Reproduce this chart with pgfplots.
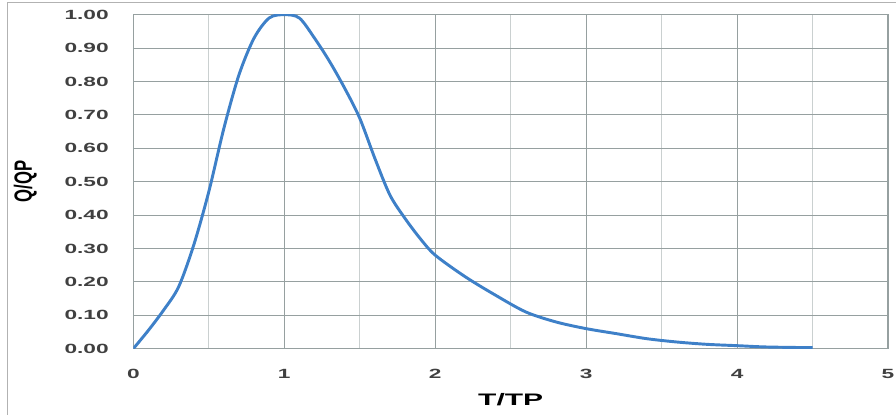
\documentclass[border=0pt]{standalone}
\usepackage{fontspec}
\setmainfont{Liberation Sans}
\usepackage{pgfplots}
\pgfplotsset{compat=1.18}
\definecolor{curve}{RGB}{62,128,200}
\definecolor{gridc}{RGB}{150,160,160}
\begin{document}
\begin{tikzpicture}
\begin{axis}[
    scale only axis,
    width=566pt, height=250.5pt,
    xmin=0, xmax=5, ymin=0, ymax=1,
    xtick={0,1,...,5},
    minor xtick={0.5,1.5,2.5,3.5,4.5},
    ytick={0,0.1,...,1.0},
    grid=both,
    major grid style={gridc, line width=0.8pt},
    minor grid style={gridc!50, line width=0.8pt},
    axis line style={gridc, line width=0.8pt},
    tick style={draw=none},
    /pgf/number format/assume math mode=true,
    yticklabel={\scalebox{1.7}[1]{\pgfmathprintnumber[fixed,fixed zerofill,precision=2]{\tick}}},
    xticklabel={\scalebox{1.7}[1]{\pgfmathprintnumber{\tick}}},
    tick label style={font=\bfseries\fontsize{10}{12}\selectfont, text=black!75},
    yticklabel style={xshift=-15pt},
    xticklabel style={yshift=-12pt},
    xlabel={\scalebox{1.8}[1]{T/TP}},
    ylabel={\scalebox{1}[1.5]{Q/QP}},
    label style={font=\bfseries\fontsize{12.5}{15}\selectfont},
    xlabel style={yshift=-4pt},
    ylabel style={yshift=14pt},
]
\addplot[curve, line width=2.2pt, smooth, tension=0.5] coordinates {
(0,0) (0.1,0.055) (0.2,0.115) (0.3,0.185) (0.4,0.31) (0.5,0.47) (0.6,0.66)
(0.7,0.82) (0.8,0.93) (0.9,0.99) (1.0,1.0) (1.1,0.99) (1.2,0.93) (1.3,0.86)
(1.4,0.78) (1.5,0.69) (1.6,0.57) (1.7,0.46) (1.8,0.39) (1.9,0.33) (2.0,0.28)
(2.2,0.215) (2.4,0.16) (2.6,0.11) (2.8,0.08) (3.0,0.06) (3.2,0.045)
(3.4,0.03) (3.6,0.02) (3.8,0.013) (4.0,0.009) (4.2,0.005) (4.5,0.003)
};
\end{axis}
\path (current axis.south west) ++(-100pt,-49.5pt) coordinate (bbsw);
\path (current axis.north east) ++(6pt,11pt) coordinate (bbne);
\path (current axis.south west) ++(-94.5pt,-49.5pt) coordinate (a);
\path (current axis.north east) ++(6pt,9pt) coordinate (c);
\draw[black!30, line width=0.8pt] (a) -- (a |- c) -- (c);
\pgfresetboundingbox
\useasboundingbox (bbsw) rectangle (bbne);
\end{tikzpicture}
\end{document}
